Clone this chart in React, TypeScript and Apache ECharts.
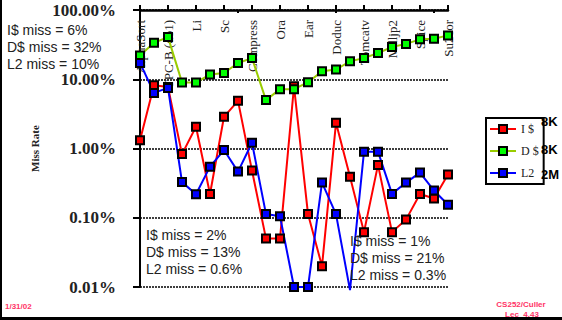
import React, { useEffect, useRef } from "react";
import * as echarts from "echarts";

const categories = [
  "AlphaSort", "TPC-B (db2)", "TPC-B (db1)", "Espresso", "Li", "Eqntott", "Sc", "Gcc",
  "Compress", "Mdljsp2", "Ora", "Fpppp", "Ear", "Swm256", "Doduc", "Alvinn", "Tomcatv",
  "Wave5", "Mdljp2", "Hydro2d", "Spice", "Nasa7", "Su2cor",
];

const iCacheMiss = [1.32, 8.2, 7.7, 0.83, 2.06, 0.22, 2.87, 4.88, 0.48, 0.05, 0.05, 7.9, 0.113, 0.02, 2.35, 0.39, 0.062, 0.58, 0.062, 0.094, 0.22, 0.19, 0.42];
const dCacheMiss = [22.1, 33.7, 40.6, 9.0, 9.0, 11.7, 12.3, 17.2, 20.2, 5.0, 7.2, 7.2, 9.05, 13.0, 13.8, 18.2, 20.2, 23.9, 29.2, 32.4, 37.7, 38.5, 43.0];
const l2Miss = [17.2, 6.35, 7.5, 0.327, 0.219, 0.547, 0.95, 0.464, 1.21, 0.113, 0.105, 0.01, 0.01, 0.322, 0.113, 0.009, 0.9, 0.9, 0.221, 0.322, 0.449, 0.247, 0.154];

const seriesNames = ["I $", "D $", "L2"];
const cacheSizes = ["8K", "8K", "2M"];
const yMin = 0.01;
const yMax = 100;

const notesLeft = ["I$ miss = 6%", "D$ miss = 32%", "L2 miss = 10%"];
const notesMid = ["I$ miss = 2%", "D$ miss = 13%", "L2 miss = 0.6%"];
const notesRight = ["I$ miss = 1%", "D$ miss = 21%", "L2 miss = 0.3%"];

const SERIF = "'Liberation Serif', 'DejaVu Serif', serif";
const SANS = "'Liberation Sans', Arial, sans-serif";

function txt(text: string, x: number, y: number, font: string, fill: string, align = "left", z = 10) {
  return {
    type: "text",
    x,
    y,
    z,
    style: { text, fill, font, align, verticalAlign: "middle" },
  };
}

function noteTexts(lines: string[], x: number, y0: number, step: number) {
  return lines.map((t, i) => txt(t, x, y0 + i * step, `14px ${SANS}`, "#222"));
}

export default function App() {
  const ref = useRef<HTMLDivElement>(null);
  useEffect(() => {
    if (!ref.current) return;
    const chart = echarts.init(ref.current, null, { renderer: "svg" });
    const toData = (arr: number[]) =>
      arr.map((v) => (v < yMin ? { value: v, symbol: "none" } : v));
    const mk = (name: string, data: number[], line: string, fill: string) => ({
      name,
      type: "line",
      data: toData(data),
      xAxisIndex: 0,
      symbol: "rect",
      symbolSize: 8,
      clip: false,
      lineStyle: { color: line, width: 2 },
      itemStyle: { color: fill, borderColor: "#000", borderWidth: 2 },
    });
    chart.setOption({
      animation: false,
      grid: { left: 140, right: 114, top: 10, bottom: 33 },
      legend: {
        orient: "vertical",
        left: 486,
        top: 118,
        borderColor: "#000",
        borderWidth: 2,
        padding: [5, 5, 5, 3],
        itemWidth: 26,
        itemHeight: 10,
        itemGap: 10,
        textStyle: { fontFamily: SERIF, fontSize: 12, color: "#222" },
        data: seriesNames,
      },
      xAxis: [
        {
          type: "category",
          position: "top",
          data: categories,
          boundaryGap: false,
          axisLine: { lineStyle: { color: "#000", width: 2.5 } },
          axisTick: { show: true, length: 5, inside: false, lineStyle: { color: "#000", width: 2 } },
          axisLabel: {
            inside: true,
            rotate: -90,
            interval: 1,
            margin: 10,
            fontFamily: SERIF,
            fontSize: 13,
            color: "#222",
          },
          splitLine: { show: false },
        },
        {
          type: "category",
          position: "top",
          data: categories,
          boundaryGap: false,
          axisLine: { show: false },
          axisTick: { show: true, length: 3, inside: true, lineStyle: { color: "#000", width: 2 } },
          axisLabel: { show: false },
          splitLine: { show: false },
        },
      ],
      yAxis: {
        type: "log",
        logBase: 10,
        min: yMin,
        max: yMax,
        name: "Miss Rate",
        nameLocation: "middle",
        nameGap: 100,
        nameTextStyle: { fontFamily: SERIF, fontWeight: "bold", fontSize: 11, color: "#222" },
        axisLine: { show: true, lineStyle: { color: "#000", width: 2 } },
        axisTick: { show: true, length: 7, lineStyle: { color: "#000", width: 2 } },
        axisLabel: {
          margin: 24,
          fontFamily: SERIF,
          fontWeight: "bold",
          fontSize: 17,
          color: "#222",
          formatter: (v: number) => v.toFixed(2) + "%",
        },
        splitLine: { show: true, lineStyle: { color: "#000", width: 1.5, type: [2, 1] } },
      },
      series: [
        mk(seriesNames[0], iCacheMiss, "#ff0000", "#ff0000"),
        mk(seriesNames[1], dCacheMiss, "#99cc00", "#00ff00"),
        mk(seriesNames[2], l2Miss, "#0000ff", "#0000ff"),
      ],
      graphic: [
        ...noteTexts(notesLeft, 7, 30, 17),
        ...noteTexts(notesMid, 146, 235, 17),
        ...noteTexts(notesRight, 350, 241, 17),
        ...cacheSizes.map((t, i) => txt(t, 541, [121, 149, 174][i], `bold 13px ${SANS}`, "#000")),
        txt("1/31/02", 5, 306, `bold 8px ${SANS}`, "#ff3366"),
        txt("CS252/Culler", 521, 304, `bold 8px ${SANS}`, "#ff3366", "center"),
        txt("Lec  4.43", 522, 314, `bold 8px ${SANS}`, "#ff3366", "center"),
        { type: "rect", shape: { x: 0, y: 317, width: 562, height: 3 }, style: { fill: "#000" } },
        { type: "rect", shape: { x: 0, y: 0, width: 2, height: 320 }, style: { fill: "#000" } },
      ],
    });
    return () => chart.dispose();
  }, []);
  return (
    <div
      ref={ref}
      style={{ position: "absolute", left: 0, top: 0, width: 562, height: 320, background: "#fff" }}
    />
  );
}
